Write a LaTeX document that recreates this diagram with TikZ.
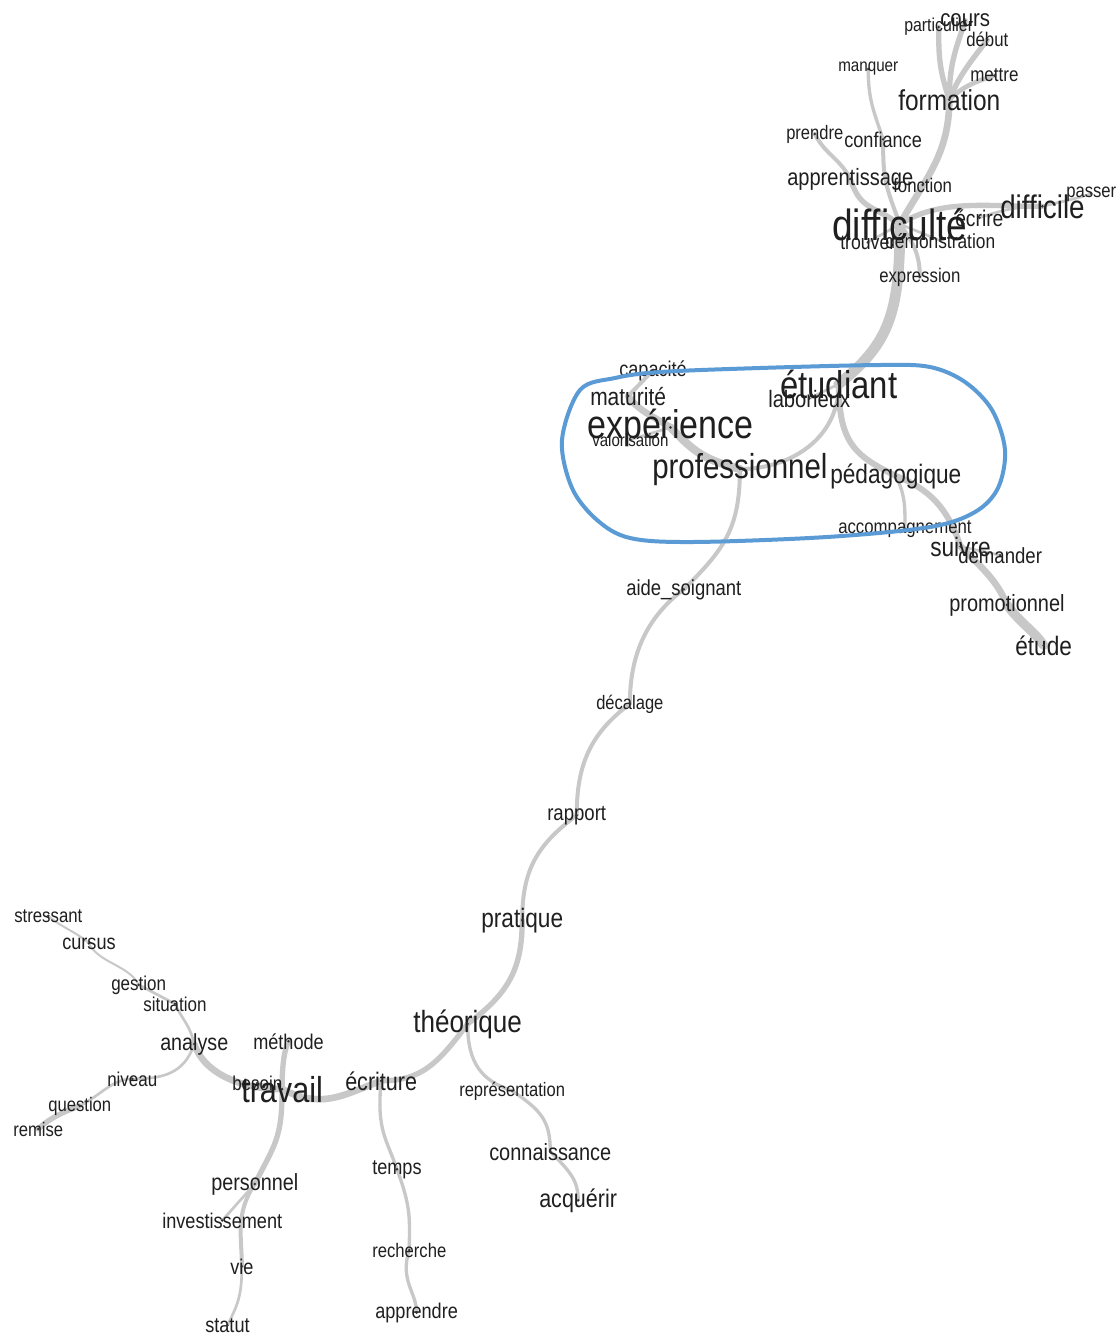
\documentclass[tikz,border=0pt]{standalone}
\usepackage{fontspec}
\setmainfont{Liberation Sans}[FakeStretch=0.85]
\pgfdeclarelayer{paper}
\pgfdeclarelayer{background}
\pgfsetlayers{paper,background,main}
\newcommand\wfs[1]{\fontsize{#1}{#1}\selectfont}
\definecolor{edgegrey}{HTML}{C8C8C8}
\definecolor{hlblue}{HTML}{5B9BD5}
\tikzset{
  w/.style={font=\wfs{#1}, inner sep=0pt, anchor=base west, text=black!88},
  ed/.style={draw=edgegrey, line width=#1, line cap=round},
  vdot/.style={fill=black!80},
  hl/.style={draw=hlblue, line width=3}
}
\begin{document}
\begin{tikzpicture}[x=0.75pt,y=-0.75pt]
\useasboundingbox (0,0) rectangle (1120,1338);
\begin{pgfonlayer}{paper}
\fill[white] (0,0) rectangle (1120,1338);
\end{pgfonlayer}
% ---- words ----
\node[w=14]   (partic) at (904,32) {particulier};
\node[w=18]   (cours) at (940,27) {cours};
\node[w=14.8] (debut) at (966,47) {début};
\node[w=13.4] (manquer) at (838,72) {manquer};
\node[w=15]   (mettre) at (970,82) {mettre};
\node[w=21.6] (formation) at (898,110) {formation};
\node[w=14.6] (prendre) at (786,139) {prendre};
\node[w=16]   (confiance) at (844,147) {confiance};
\node[w=17.7] (apprent) at (787,185) {apprentissage};
\node[w=14.8] (fonction) at (893,192) {fonction};
\node[w=14.7] (passer) at (1066,197) {passer};
\node[w=24.5] (difficile) at (1000,218) {difficile};
\node[w=17]   (ecrire) at (955,226) {écrire};
\node[w=15.6] (trouver) at (840,249) {trouver};
\node[w=15.3] (demonstr) at (885,248) {démonstration};
\node[w=32.7] (difficulte) at (832,240) {difficulté};
\node[w=14.8] (expression) at (879,282) {expression};
\node[w=16]   (capacite) at (619,376) {capacité};
\node[w=17.8] (laborieux) at (768,407) {laborieux};
\node[w=29]   (etudiant) at (780,398) {étudiant};
\node[w=18.5] (maturite) at (590,405) {maturité};
\node[w=13.3] (valorisation) at (592,446) {valorisation};
\node[w=30]   (experience) at (587,438) {expérience};
\node[w=26]   (professionnel) at (652,478) {professionnel};
\node[w=20]   (pedagogique) at (830,483) {pédagogique};
\node[w=14.8] (accomp) at (838,533) {accompagnement};
\node[w=20]   (suivre) at (930,556) {suivre};
\node[w=16.4] (demander) at (958,563) {demander};
\node[w=16.3] (aide) at (626,595) {aide\_soignant};
\node[w=17.6] (promotionnel) at (949,611) {promotionnel};
\node[w=20]   (etude) at (1015,655) {étude};
\node[w=14.6] (decalage) at (596,709) {décalage};
\node[w=16.4] (rapport) at (547,820) {rapport};
\node[w=14.8] (stressant) at (14,922) {stressant};
\node[w=20]   (pratique) at (481,927) {pratique};
\node[w=16]   (cursus) at (62,949) {cursus};
\node[w=15]   (gestion) at (111,990) {gestion};
\node[w=15]   (situation) at (143,1011) {situation};
\node[w=23]   (theorique) at (413,1032) {théorique};
\node[w=17.4] (analyse) at (160,1050) {analyse};
\node[w=16]   (methode) at (253,1049) {méthode};
\node[w=15]   (niveau) at (107,1086) {niveau};
\node[w=15]   (besoin) at (232,1090) {besoin};
\node[w=27]   (travail) at (241,1102) {travail};
\node[w=19]   (ecriture) at (345,1090) {écriture};
\node[w=14.6] (represent) at (459,1096) {représentation};
\node[w=14.7] (question) at (48,1111) {question};
\node[w=14.7] (remise) at (13,1136) {remise};
\node[w=17.6] (connaissance) at (489,1160) {connaissance};
\node[w=17.5] (personnel) at (211,1190) {personnel};
\node[w=16]   (temps) at (372,1174) {temps};
\node[w=19]   (acquerir) at (539,1207) {acquérir};
\node[w=16]   (investissement) at (162,1228) {investissement};
\node[w=14.7] (recherche) at (372,1257) {recherche};
\node[w=16]   (vie) at (230,1274) {vie};
\node[w=16]   (apprendre) at (375,1318) {apprendre};
\node[w=16]   (statut) at (205,1332) {statut};
% ---- vertex dots ----
\foreach \n in {partic,cours,debut,manquer,mettre,formation,prendre,confiance,apprent,fonction,passer,difficile,ecrire,trouver,demonstr,difficulte,expression,capacite,laborieux,etudiant,maturite,valorisation,experience,professionnel,pedagogique,accomp,suivre,demander,aide,promotionnel,etude,decalage,rapport,stressant,pratique,cursus,gestion,situation,theorique,analyse,methode,niveau,besoin,travail,ecriture,represent,question,remise,connaissance,personnel,temps,acquerir,investissement,recherche,vie,apprendre,statut}
  \fill[vdot] (\n.center) circle (1.4);
% ---- edges ----
\begin{pgfonlayer}{background}
\draw[ed=8] (difficulte.center) .. controls +(0,90) and +(50,-40) .. (etudiant.center);
\draw[ed=5] (difficulte.center) .. controls +(25,-45) and +(0,55) .. (formation.center);
\draw[ed=4] (formation.center) .. controls +(-10,-30) and +(0,30) .. (partic.center);
\draw[ed=4] (formation.center) .. controls +(0,-35) and +(-10,30) .. (cours.center);
\draw[ed=4] (formation.center) .. controls +(10,-25) and +(-15,20) .. (debut.center);
\draw[ed=3.5] (formation.center) .. controls +(15,-15) and +(-15,5) .. (mettre.center);
\draw[ed=4] (difficulte.center) .. controls +(-30,-20) and +(10,30) .. (apprent.center);
\draw[ed=3] (apprent.center) .. controls +(-10,-20) and +(10,20) .. (prendre.center);
\draw[ed=3] (difficulte.center) .. controls +(-15,-40) and +(0,40) .. (confiance.center);
\draw[ed=2.5] (confiance.center) .. controls +(-10,-30) and +(0,30) .. (manquer.center);
\draw[ed=3] (difficulte.center) .. controls +(10,-20) and +(-5,15) .. (fonction.center);
\draw[ed=4] (difficulte.center) .. controls +(40,-25) and +(-60,0) .. (difficile.center);
\draw[ed=2] (difficile.center) .. controls +(20,-5) and +(-15,5) .. (passer.center);
\draw[ed=2] (difficile.center) .. controls +(-30,0) and +(15,-5) .. (ecrire.center);
\draw[ed=3] (difficulte.center) .. controls +(15,20) and +(0,-20) .. (expression.center);
\draw[ed=2] (difficulte.center) -- (trouver.center);
\draw[ed=2] (difficulte.center) -- (demonstr.center);
\draw[ed=2] (etudiant.center) -- (laborieux.center);
\draw[ed=3] (etudiant.center) .. controls +(0,55) and +(50,0) .. (professionnel.center);
\draw[ed=4.5] (etudiant.center) .. controls +(0,60) and +(-40,-20) .. (pedagogique.center);
\draw[ed=4.5] (pedagogique.center) .. controls +(40,15) and +(-10,-30) .. (suivre.center);
\draw[ed=2.5] (pedagogique.center) .. controls +(10,20) and +(0,-20) .. (accomp.center);
\draw[ed=2] (suivre.center) -- (demander.center);
\draw[ed=5] (suivre.center) .. controls +(20,20) and +(-10,-25) .. (promotionnel.center);
\draw[ed=7] (promotionnel.center) .. controls +(15,20) and +(-10,-15) .. (etude.center);
\draw[ed=6] (professionnel.center) .. controls +(-40,-10) and +(20,20) .. (experience.center);
\draw[ed=5] (experience.center) .. controls +(-15,-10) and +(10,15) .. (maturite.center);
\draw[ed=3] (maturite.center) -- (capacite.center);
\draw[ed=2] (experience.center) -- (valorisation.center);
\draw[ed=3] (professionnel.center) .. controls +(0,60) and +(40,-40) .. (aide.center);
\draw[ed=3] (aide.center) .. controls +(-40,30) and +(0,-45) .. (decalage.center);
\draw[ed=3] (decalage.center) .. controls +(-40,30) and +(0,-50) .. (rapport.center);
\draw[ed=3] (rapport.center) .. controls +(-40,30) and +(0,-50) .. (pratique.center);
\draw[ed=4] (pratique.center) .. controls +(0,50) and +(40,-30) .. (theorique.center);
\draw[ed=4] (theorique.center) .. controls +(-30,40) and +(40,0) .. (ecriture.center);
\draw[ed=5] (ecriture.center) .. controls +(-40,15) and +(40,20) .. (travail.center);
\draw[ed=5] (travail.center) .. controls +(-40,0) and +(10,30) .. (analyse.center);
\draw[ed=4] (travail.center) .. controls +(0,-20) and +(-5,10) .. (methode.center);
\draw[ed=1.5] (travail.center) -- (besoin.center);
\draw[ed=4] (travail.center) .. controls +(0,50) and +(20,-40) .. (personnel.center);
\draw[ed=2] (personnel.center) -- (investissement.center);
\draw[ed=3] (personnel.center) .. controls +(-20,30) and +(0,-30) .. (vie.center);
\draw[ed=2] (vie.center) .. controls +(0,30) and +(10,-20) .. (statut.center);
\draw[ed=2.5] (theorique.center) .. controls +(0,40) and +(-30,-10) .. (represent.center);
\draw[ed=2.5] (represent.center) .. controls +(30,20) and +(0,-30) .. (connaissance.center);
\draw[ed=2.5] (connaissance.center) .. controls +(20,20) and +(0,-20) .. (acquerir.center);
\draw[ed=2.5] (ecriture.center) .. controls +(-5,50) and +(-10,-30) .. (temps.center);
\draw[ed=2.5] (temps.center) .. controls +(15,40) and +(0,-30) .. (recherche.center);
\draw[ed=2.5] (recherche.center) .. controls +(-10,30) and +(0,-20) .. (apprendre.center);
\draw[ed=2] (analyse.center) .. controls +(-5,-20) and +(10,20) .. (situation.center);
\draw[ed=2] (situation.center) -- (gestion.center);
\draw[ed=1.5] (gestion.center) .. controls +(-10,-20) and +(10,20) .. (cursus.center);
\draw[ed=1.5] (cursus.center) .. controls +(-10,-10) and +(10,10) .. (stressant.center);
\draw[ed=2] (analyse.center) .. controls +(-10,30) and +(30,0) .. (niveau.center);
\draw[ed=2] (niveau.center) .. controls +(-20,0) and +(20,-10) .. (question.center);
\draw[ed=4] (question.center) .. controls +(-15,5) and +(10,-10) .. (remise.center);
\end{pgfonlayer}
% ---- hand-drawn highlight ----
\draw[hl] plot[smooth cycle, tension=0.55] coordinates {
  (580,390) (615,378) (660,372) (760,368) (880,365) (930,367) (965,382)
  (992,410) (1005,450) (998,488) (975,512) (930,527) (827,537) (693,542)
  (630,538) (597,520) (572,488) (562,440)};
\end{tikzpicture}
\end{document}
